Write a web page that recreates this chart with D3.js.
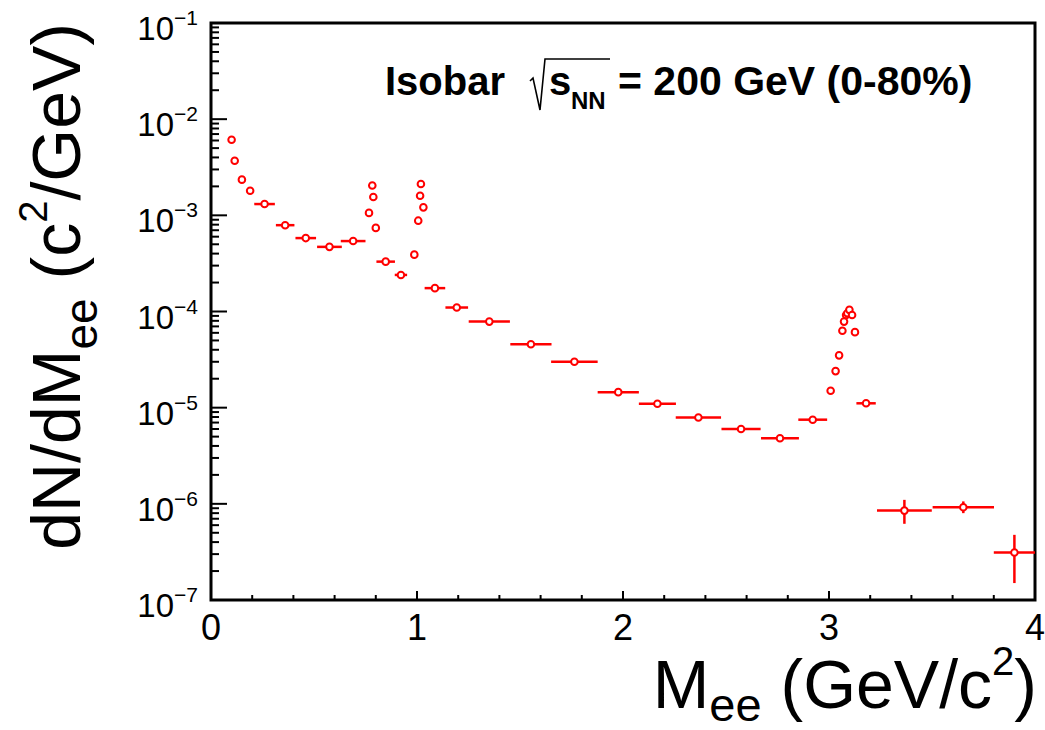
<!DOCTYPE html>
<html>
<head>
<meta charset="utf-8">
<script src="https://cdn.jsdelivr.net/npm/d3@7"></script>
<style>
body { margin: 0; background: #fff; }
svg { font-family: "Liberation Sans", Arial, Helvetica, sans-serif; }
</style>
</head>
<body>
<svg id="chart" width="1045" height="730"></svg>
<script>
// dielectron mass spectrum, isobar 0-80%
var massX = [0.100, 0.115, 0.150, 0.190, 0.260, 0.360, 0.460, 0.575, 0.690,
  0.767, 0.783, 0.788, 0.800, 0.848, 0.922,
  0.987, 1.006, 1.015, 1.019, 1.031, 1.087, 1.193, 1.351, 1.553, 1.764,
  1.977, 2.167, 2.366, 2.573, 2.762, 2.921,
  3.008, 3.032, 3.049, 3.065, 3.073, 3.083, 3.089, 3.099, 3.112, 3.126,
  3.180, 3.366, 3.652, 3.900];
var massErr = [0.008, 0.008, 0.012, 0.018, 0.050, 0.045, 0.050, 0.060, 0.060,
  0.005, 0.005, 0.005, 0.005, 0.045, 0.030,
  0.005, 0.005, 0.005, 0.005, 0.005, 0.050, 0.055, 0.100, 0.100, 0.113,
  0.100, 0.090, 0.110, 0.095, 0.092, 0.070,
  0.005, 0.005, 0.005, 0.005, 0.005, 0.005, 0.005, 0.005, 0.005, 0.005,
  0.047, 0.133, 0.149, 0.100];
var yieldVal = [6.1e-3, 3.7e-3, 2.35e-3, 1.8e-3, 1.31e-3, 7.9e-4, 5.8e-4, 4.7e-4, 5.4e-4,
  1.06e-3, 2.04e-3, 1.55e-3, 7.4e-4, 3.3e-4, 2.4e-4,
  3.9e-4, 8.8e-4, 1.6e-3, 2.12e-3, 1.21e-3, 1.75e-4, 1.1e-4, 7.85e-5, 4.57e-5, 3.0e-5,
  1.45e-5, 1.1e-5, 7.9e-6, 6.0e-6, 4.8e-6, 7.5e-6,
  1.5e-5, 2.4e-5, 3.5e-5, 6.3e-5, 7.85e-5, 9.2e-5, 9.6e-5, 1.04e-4, 9.2e-5, 6.1e-5,
  1.11e-5, 8.5e-7, 9.2e-7, 3.12e-7];
var yieldLo = [0, 0, 0, 0, 0, 0, 0, 0, 0,
  0, 0, 0, 0, 0, 0,
  0, 0, 0, 0, 0, 0, 0, 2e-6, 2e-6, 1.3e-6,
  7e-7, 5e-7, 4e-7, 3e-7, 3e-7, 4e-7,
  0, 0, 0, 0, 0, 0, 0, 0, 0, 0,
  7e-7, 2.3e-7, 1.2e-7, 1.62e-7];
var yieldHi = [0, 0, 0, 0, 0, 0, 0, 0, 0,
  0, 0, 0, 0, 0, 0,
  0, 0, 0, 0, 0, 0, 0, 2e-6, 2e-6, 1.3e-6,
  7e-7, 5e-7, 4e-7, 3e-7, 3e-7, 4e-7,
  0, 0, 0, 0, 0, 0, 0, 0, 0, 0,
  7e-7, 2.5e-7, 1.4e-7, 1.64e-7];
var xTickLabels = ["0", "1", "2", "3", "4"];
var yTickExp = ["\u22121", "\u22122", "\u22123", "\u22124", "\u22125", "\u22126", "\u22127"];

var svg = d3.select("#chart");
var plotL = 211, plotR = 1035, plotT = 23, plotB = 600;

var x = d3.scaleLinear().domain([0, 4]).range([plotL, plotR]);
var y = d3.scaleLog().domain([1e-7, 1e-1]).range([plotB, plotT]);

svg.append("clipPath").attr("id", "plotclip")
  .append("rect").attr("x", plotL).attr("y", plotT)
  .attr("width", plotR - plotL).attr("height", plotB - plotT);

// ticks (inward, ROOT style)
var isDecade = d => Math.abs(Math.log10(d) - Math.round(Math.log10(d))) < 1e-6;
svg.append("g").selectAll("line")
  .data(y.ticks())
  .enter().append("line")
  .attr("x1", plotL).attr("x2", d => plotL + (isDecade(d) ? 16 : 8))
  .attr("y1", d => y(d)).attr("y2", d => y(d))
  .style("stroke", "#000").style("stroke-width", 2);

svg.append("g").selectAll("line")
  .data(x.ticks(20))
  .enter().append("line")
  .attr("x1", d => x(d)).attr("x2", d => x(d))
  .attr("y1", plotB).attr("y2", d => plotB - (Math.abs(d - Math.round(d)) < 1e-6 ? 9 : 5))
  .style("stroke", "#000").style("stroke-width", 2);

// frame
svg.append("rect")
  .attr("x", plotL).attr("y", plotT)
  .attr("width", plotR - plotL).attr("height", plotB - plotT)
  .style("fill", "none").style("stroke", "#000").style("stroke-width", 3);

// tick labels
var yl = svg.append("g").selectAll("text")
  .data(yTickExp)
  .enter().append("text")
  .attr("x", 198)
  .attr("y", (d, i) => y(Math.pow(10, -(i + 1))) + 17)
  .attr("text-anchor", "end")
  .style("font-size", "33px")
  .style("fill", "#000");
yl.append("tspan").text("10");
yl.append("tspan").attr("dy", -15).style("font-size", "21px").text(d => d);

svg.append("g").selectAll("text")
  .data(xTickLabels)
  .enter().append("text")
  .attr("x", (d, i) => x(i))
  .attr("y", 640)
  .attr("text-anchor", "middle")
  .style("font-size", "36px")
  .text(d => d);

// axis titles
var xt = svg.append("text")
  .attr("x", 1037).attr("y", 708)
  .attr("text-anchor", "end")
  .style("font-size", "68px");
xt.append("tspan").text("M");
xt.append("tspan").attr("dy", 13).style("font-size", "47px").text("ee");
xt.append("tspan").attr("dy", -13).text(" (GeV/c");
xt.append("tspan").attr("dy", -33).style("font-size", "40px").text("2");
xt.append("tspan").attr("dy", 33).text(")");

var yt = svg.append("text")
  .attr("transform", "translate(80,23) rotate(-90)")
  .attr("text-anchor", "end")
  .style("font-size", "68px");
yt.append("tspan").text("dN/dM");
yt.append("tspan").attr("dy", 17).style("font-size", "46px").text("ee");
yt.append("tspan").attr("dy", -17).text("  (c");
yt.append("tspan").attr("dy", -33).style("font-size", "40px").text("2");
yt.append("tspan").attr("dy", 33).text("/GeV)");

// header text
var hdr = svg.append("g").style("font-weight", "bold").style("fill", "#000");
hdr.append("text").attr("x", 385).attr("y", 95).style("font-size", "40px").text("Isobar");
hdr.append("path")
  .attr("d", "M530,81 L533,78 L540,110 L545,59 L610,59")
  .style("fill", "none").style("stroke", "#000").style("stroke-width", 1.6);
hdr.append("text").attr("x", 549).attr("y", 95).style("font-size", "40px").text("s");
hdr.append("text").attr("x", 571).attr("y", 109).style("font-size", "24px").text("NN");
hdr.append("text").attr("x", 618).attr("y", 95).style("font-size", "41px").text("= 200 GeV (0-80%)");

// data points
var pts = massX.map((m, i) => ({m: m, dm: massErr[i], v: yieldVal[i], lo: yieldLo[i], hi: yieldHi[i]}));
var g = svg.append("g").attr("clip-path", "url(#plotclip)");
var red = "#ff0000";

g.selectAll(".xerr").data(pts).enter().append("line")
  .attr("class", "xerr")
  .attr("x1", d => x(d.m - d.dm)).attr("x2", d => x(d.m + d.dm))
  .attr("y1", d => y(d.v)).attr("y2", d => y(d.v))
  .style("stroke", red).style("stroke-width", 2.5);

g.selectAll(".yerr").data(pts.filter(d => d.lo > 0)).enter().append("line")
  .attr("class", "yerr")
  .attr("x1", d => x(d.m)).attr("x2", d => x(d.m))
  .attr("y1", d => y(d.v - d.lo)).attr("y2", d => y(d.v + d.hi))
  .style("stroke", red).style("stroke-width", 2.5);

g.selectAll("circle").data(pts).enter().append("circle")
  .attr("cx", d => x(d.m)).attr("cy", d => y(d.v))
  .attr("r", 3.3)
  .style("fill", "#fff").style("stroke", red).style("stroke-width", 2);
</script>
</body>
</html>
